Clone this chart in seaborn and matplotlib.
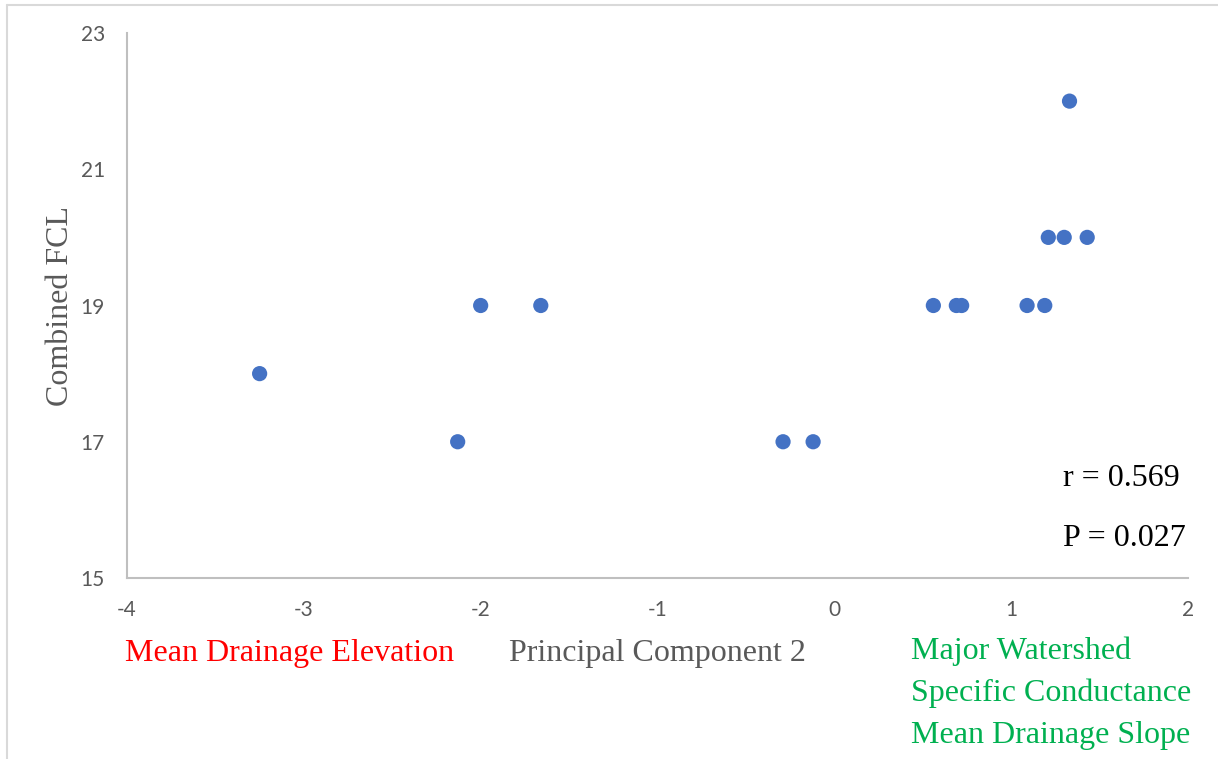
import matplotlib
matplotlib.use("Agg")
import matplotlib.pyplot as plt
from matplotlib.lines import Line2D
import seaborn as sns
import pandas as pd

# Principal component 2 scores and combined food-chain length per site
pc2 = [-3.25, -2.13, -2.00, -1.66, -0.29, -0.12, 0.56, 0.69, 0.72,
       1.09, 1.19, 1.21, 1.30, 1.43, 1.33]
fcl = [18, 17, 19, 19, 17, 17, 19, 19, 19, 19, 19, 20, 20, 20, 22]

x_ticks = [-4, -3, -2, -1, 0, 1, 2]
y_ticks = [15, 17, 19, 21, 23]

df = pd.DataFrame({"pc2": pc2, "fcl": fcl})

sns.set_theme(style="white")
plt.rcParams["font.family"] = ["Lato", "DejaVu Sans"]

W, H = 1218, 759
fig = plt.figure(figsize=(W / 100, H / 100), dpi=100)
ax = fig.add_axes([127 / W, 1 - 578 / H, 1061 / W, 545 / H])

sns.scatterplot(data=df, x="pc2", y="fcl", ax=ax, s=120, color="#4472C4",
                edgecolor="none", linewidth=0, zorder=3)

ax.set_xlim(-4, 2)
ax.set_ylim(15, 23)
ax.set_xticks(x_ticks)
ax.set_yticks(y_ticks)
ax.set_xticklabels([str(v) for v in x_ticks])
ax.set_yticklabels([str(v) for v in y_ticks])
ax.tick_params(axis="both", length=0, labelsize=15, colors="#595959")
ax.tick_params(axis="x", pad=16)
ax.tick_params(axis="y", pad=16)

for side in ("top", "right"):
    ax.spines[side].set_visible(False)
for side in ("left", "bottom"):
    ax.spines[side].set_color("#BFBFBF")
    ax.spines[side].set_linewidth(1.5)

serif = "Liberation Serif"

ax.set_xlabel("")
ax.set_ylabel("Combined FCL", family=serif, fontsize=23, color="#595959")
ax.yaxis.set_label_coords(-0.049, 0.5)

def ftext(px, py, s, **kw):
    fig.text(px / W, 1 - py / H, s, family=serif, fontsize=23, va="center", **kw)

ftext(125, 653, "Mean Drainage Elevation", color="#FF0000")
ftext(509, 653, "Principal Component 2", color="#595959")
ftext(911, 651, "Major Watershed", color="#00B050")
ftext(911, 693, "Specific Conductance", color="#00B050")
ftext(911, 735, "Mean Drainage Slope", color="#00B050")
ftext(1063, 478, "r = 0.569", color="black")
ftext(1063, 539, "P = 0.027", color="black")

# chart-area border
fig.add_artist(Line2D([7 / W, 7 / W], [0, 1 - 5 / H], transform=fig.transFigure,
                      color="#D9D9D9", linewidth=1.5))
fig.add_artist(Line2D([7 / W, 1], [1 - 5 / H, 1 - 5 / H], transform=fig.transFigure,
                      color="#D9D9D9", linewidth=1.5))

fig.savefig("out.png", dpi=100, facecolor="white")
